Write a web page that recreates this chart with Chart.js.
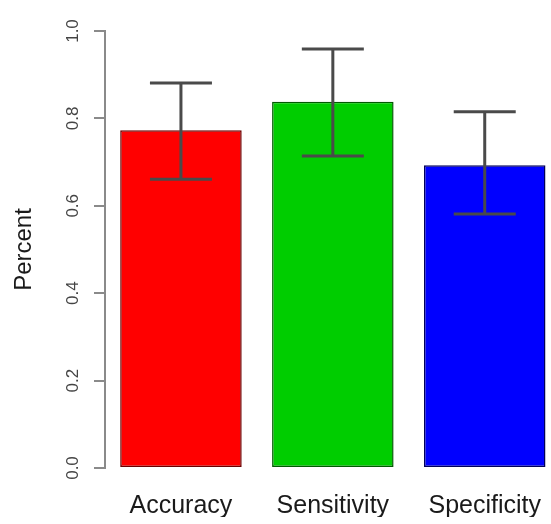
<!DOCTYPE html>
<html>
<head>
<meta charset="utf-8">
<script src="https://cdn.jsdelivr.net/npm/chart.js@4/dist/chart.umd.min.js"></script>
<style>
  html, body { margin: 0; padding: 0; background: #fff; overflow: hidden; }
  #wrap { position: relative; width: 564px; height: 524px; }
</style>
</head>
<body>
<div id="wrap"><canvas id="c"></canvas></div>
<script>
  const categories = ["Accuracy", "Sensitivity", "Specificity"];
  const means = [0.773, 0.838, 0.693];
  const lowerCI = [0.661, 0.714, 0.581];
  const upperCI = [0.881, 0.959, 0.815];
  const yTicks = [0, 0.2, 0.4, 0.6, 0.8, 1.0];
  const yTickLabels = ["0.0", "0.2", "0.4", "0.6", "0.8", "1.0"];

  const FILL = ["#ff0000", "#00cd00", "#0000ff"];
  const EDGE = ["#6a0000", "#005a00", "#00005a"];
  const AXIS = "#8a8a8a", TXT = "#1a1a1a", ERR = "#4a4a4a";
  const FONT = "'Liberation Sans', Arial, sans-serif";

  // R style rotated tick labels on the y axis
  const yLabels = {
    id: "yLabels",
    afterDraw(chart) {
      const y = chart.scales.y, ctx = chart.ctx;
      ctx.save();
      ctx.fillStyle = "#444";
      ctx.font = "17px " + FONT;
      ctx.textAlign = "center";
      ctx.textBaseline = "middle";
      yTicks.forEach((v, i) => {
        ctx.save();
        ctx.translate(73, y.getPixelForValue(v));
        ctx.rotate(-Math.PI / 2);
        ctx.fillText(yTickLabels[i], 0, 0);
        ctx.restore();
      });
      ctx.restore();
    }
  };

  const errBars = {
    id: "errBars",
    afterDatasetsDraw(chart) {
      const meta = chart.getDatasetMeta(0), y = chart.scales.y, ctx = chart.ctx;
      ctx.save();
      ctx.strokeStyle = ERR;
      ctx.lineWidth = 3;
      meta.data.forEach((bar, i) => {
        const x = bar.x, lo = y.getPixelForValue(lowerCI[i]), hi = y.getPixelForValue(upperCI[i]);
        ctx.beginPath();
        ctx.moveTo(x, lo); ctx.lineTo(x, hi);
        ctx.moveTo(x - 31, hi); ctx.lineTo(x + 31, hi);
        ctx.moveTo(x - 31, lo); ctx.lineTo(x + 31, lo);
        ctx.stroke();
      });
      ctx.restore();
    }
  };

  new Chart(document.getElementById("c"), {
    type: "bar",
    data: {
      labels: categories,
      datasets: [{
        data: means,
        backgroundColor: FILL,
        borderColor: EDGE,
        borderWidth: 1.5,
        borderSkipped: false,
        barPercentage: 0.8,
        categoryPercentage: 1
      }]
    },
    options: {
      responsive: true, maintainAspectRatio: false, animation: false,
      layout: { padding: { top: 31, left: 0, right: 0, bottom: 7 } },
      plugins: { legend: { display: false }, tooltip: { enabled: false } },
      scales: {
        x: {
          afterFit: s => { s.height = 49; },
          grid: { display: false, drawTicks: false },
          border: { display: false },
          ticks: { color: TXT, font: { family: FONT, size: 25 }, padding: 23 }
        },
        y: {
          min: 0, max: 1,
          afterBuildTicks: s => { s.ticks = yTicks.map(v => ({ value: v })); },
          grid: { drawOnChartArea: false, drawTicks: true, tickLength: 11, color: AXIS, lineWidth: 2 },
          border: { display: true, color: AXIS, width: 2 },
          ticks: { display: false },
          title: { display: true, text: "Percent", color: TXT, font: { family: FONT, size: 24 }, padding: { top: 9.6, bottom: 55.6 } }
        }
      }
    },
    plugins: [yLabels, errBars]
  });
</script>
</body>
</html>
